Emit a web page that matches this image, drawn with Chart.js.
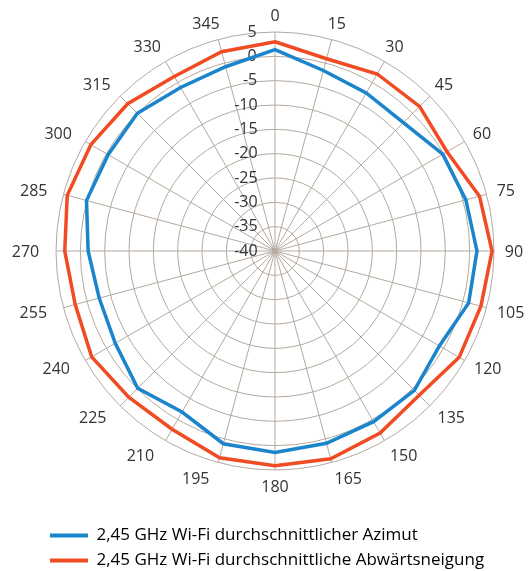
<!DOCTYPE html>
<html>
<head>
<meta charset="utf-8">
<script src="https://cdn.jsdelivr.net/npm/chart.js@4/dist/chart.umd.min.js"></script>
<style>
  html, body { margin: 0; padding: 0; background: #ffffff; }
  #wrap { width: 528px; height: 571px; position: relative; }
</style>
</head>
<body>
<div id="wrap"><canvas id="c"></canvas></div>
<script>
// Angles in degrees, clockwise from the top
const angles = ['0','15','30','45','60','75','90','105','120','135','150','165',
                '180','195','210','225','240','255','270','285','300','315','330','345'];

// Average gain in dB for each angle
const azimuth = [1.4, -1.6, -2.5, -2.7, -0.2, 0.6, 1.5, 1.2, -1.0, 0.5, 0.5, 0.9,
                 1.4, 1.0, -1.8, -0.1, -2.1, -2.6, -1.6, 0.1, -0.4, 0.0, -1.2, -0.8];
const downtilt = [3.0, 0.9, 2.0, 2.0, 0.8, 3.5, 4.6, 3.8, 3.7, 1.9, 3.2, 4.2,
                  4.1, 4.0, 2.3, 2.5, 3.5, 2.5, 3.2, 4.2, 3.7, 2.8, 1.4, 2.4];

const seriesNames = ['2,45 GHz Wi-Fi durchschnittlicher Azimut',
                     '2,45 GHz Wi-Fi durchschnittliche Abwärtsneigung'];

const scaleMin = -40, scaleMax = 5, scaleStep = 5;

const BLUE = '#1a84cd';
const RED = '#f04b23';
const GRID = '#b3a99f';
const TEXT = '#333333';
const FONT = "'Open Sans', 'Noto Sans', sans-serif";
const FONT_SIZE = 16;
const LEGEND_FONT_SIZE = 17;

// Tick labels sit right-aligned just left of the vertical axis line
const TICK_INSET = 18;
const measureCtx = document.createElement('canvas').getContext('2d');
measureCtx.font = FONT_SIZE + 'px ' + FONT;
function tickText(v) {
  const s = String(v);
  const w = measureCtx.measureText(s).width;
  const sp = measureCtx.measureText(' ').width;
  const k = Math.max(0, Math.round((w + 2 * TICK_INSET) / sp));
  return s + ' '.repeat(k);
}

// Angle labels placed around the outer ring, using the scale's own geometry
const LABEL_GAP = 10.8;
const angleLabels = {
  id: 'angleLabels',
  afterDraw(chart) {
    const scale = chart.scales.r;
    const ctx = chart.ctx;
    ctx.save();
    ctx.font = FONT_SIZE + 'px ' + FONT;
    ctx.fillStyle = TEXT;
    ctx.textAlign = 'center';
    ctx.textBaseline = 'middle';
    const dist = scale.drawingArea + LABEL_GAP;
    chart.data.labels.forEach((lab, i) => {
      const a = scale.getIndexAngle(i);
      const ux = Math.sin(a), uy = -Math.cos(a);
      const p = scale.getPointPosition(i, dist);
      const w = ctx.measureText(lab).width;
      let dx = 0;
      if (Math.abs(ux) > 1e-6) {
        dx = (uy < -1e-6 ? ux : Math.sign(ux)) * w / 2;
        if (ux < 0) dx -= 6;
      }
      const dy = uy * 6 + 1;
      ctx.fillText(lab, p.x + dx, p.y + dy);
    });
    ctx.restore();
  }
};

// Moves the legend block to its place under the plot
const legendOffset = {
  id: 'legendOffset',
  afterLayout(chart) {
    const lg = chart.legend;
    lg.left -= 4; lg.right -= 4;
    lg.top += 39; lg.bottom += 39;
  }
};

new Chart(document.getElementById('c'), {
  type: 'radar',
  data: {
    labels: angles,
    datasets: [
      { label: seriesNames[0], data: azimuth, borderColor: BLUE, backgroundColor: BLUE,
        borderWidth: 3.5, fill: false, pointRadius: 0, pointHoverRadius: 0, tension: 0 },
      { label: seriesNames[1], data: downtilt, borderColor: RED, backgroundColor: RED,
        borderWidth: 3.5, fill: false, pointRadius: 0, pointHoverRadius: 0, tension: 0 }
    ]
  },
  options: {
    responsive: true,
    maintainAspectRatio: false,
    animation: false,
    layout: { padding: { left: 46, right: 24, top: 22, bottom: 31 } },
    scales: {
      r: {
        min: scaleMin,
        max: scaleMax,
        ticks: {
          stepSize: scaleStep,
          color: TEXT,
          font: { family: FONT, size: FONT_SIZE },
          showLabelBackdrop: false,
          callback: v => tickText(v)
        },
        grid: { color: GRID, lineWidth: 1, circular: true },
        angleLines: { color: GRID, lineWidth: 1 },
        pointLabels: { display: false }
      }
    },
    plugins: {
      tooltip: { enabled: false },
      legend: {
        position: 'bottom',
        align: 'start',
        labels: {
          boxWidth: 38,
          boxHeight: 4,
          padding: 8,
          color: TEXT,
          font: { family: FONT, size: LEGEND_FONT_SIZE },
          generateLabels(chart) {
            return chart.data.datasets.map((ds, i) => ({
              text: ds.label, fillStyle: ds.borderColor, strokeStyle: ds.borderColor,
              lineWidth: 0, hidden: false, datasetIndex: i
            }));
          }
        }
      }
    }
  },
  plugins: [angleLabels, legendOffset]
});
</script>
</body>
</html>
